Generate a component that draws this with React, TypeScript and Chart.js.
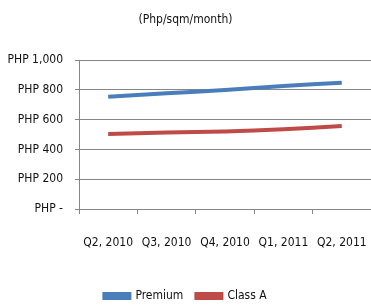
import React, { useEffect, useRef } from "react";
import { Chart, registerables } from "chart.js";

Chart.register(...registerables);

const categories = ["Q2, 2010", "Q3, 2010", "Q4, 2010", "Q1, 2011", "Q2, 2011"];
const premium = [754, 777, 798, 826, 848];
const classA = [503, 513, 520, 535, 557];
const yTicks = [0, 200, 400, 600, 800, 1000];
const titleText = "(Php/sqm/month)";

const FONT = "'DejaVu Sans Condensed', 'DejaVu Sans', sans-serif";
const FS = 12;
const TEXT = "#111";

export default function App() {
  const ref = useRef<HTMLCanvasElement | null>(null);
  useEffect(() => {
    document.body.style.margin = "0";
    const chart = new Chart(ref.current!, {
      type: "line",
      data: {
        labels: categories,
        datasets: [
          {
            label: "Premium",
            data: premium,
            borderColor: "#4A7EBB",
            backgroundColor: "#4A7EBB",
            borderWidth: 4,
            pointRadius: 0,
            tension: 0.3,
          },
          {
            label: "Class A",
            data: classA,
            borderColor: "#BE4B48",
            backgroundColor: "#BE4B48",
            borderWidth: 4,
            pointRadius: 0,
            tension: 0.3,
          },
        ],
      },
      options: {
        responsive: false,
        animation: false,
        layout: { padding: { left: 0, right: 0, top: 9, bottom: -7 } },
        plugins: {
          title: {
            display: true,
            text: titleText,
            color: TEXT,
            font: { family: FONT, size: FS, weight: "normal" },
            padding: { top: 4, bottom: 32.6 },
          },
          legend: {
            position: "bottom",
            labels: {
              color: TEXT,
              font: { family: FONT, size: FS },
              boxWidth: 25,
              boxHeight: 4,
              padding: 13,
            },
          },
          tooltip: { enabled: false },
        },
        scales: {
          x: {
            offset: true,
            afterFit: (scale: any) => {
              scale.height = 68;
              scale.paddingRight = 0;
              scale.paddingLeft = 0;
            },
            grid: {
              display: true,
              drawOnChartArea: false,
              offset: true,
              color: "#868686",
              tickLength: 5,
            },
            border: { color: "#868686" },
            ticks: {
              color: TEXT,
              font: { family: FONT, size: FS },
              padding: 22,
              maxRotation: 0,
              autoSkip: false,
            },
          },
          y: {
            min: 0,
            max: 1000,
            afterBuildTicks: (scale: any) => {
              scale.ticks = yTicks.map((v) => ({ value: v }));
            },
            afterFit: (scale: any) => {
              scale.width = 79;
            },
            grid: { color: "#868686", tickLength: 4 },
            border: { color: "#868686" },
            ticks: {
              color: TEXT,
              font: { family: FONT, size: FS },
              padding: 12,
              callback: (v: any) =>
                Number(v) === 0 ? "PHP -" : "PHP " + Number(v).toLocaleString("en-US"),
            },
          },
        },
      },
    });
    return () => chart.destroy();
  }, []);
  return (
    <div style={{ position: "absolute", left: 0, top: 0, width: 371, height: 305 }}>
      <canvas ref={ref} width={371} height={305} />
    </div>
  );
}
